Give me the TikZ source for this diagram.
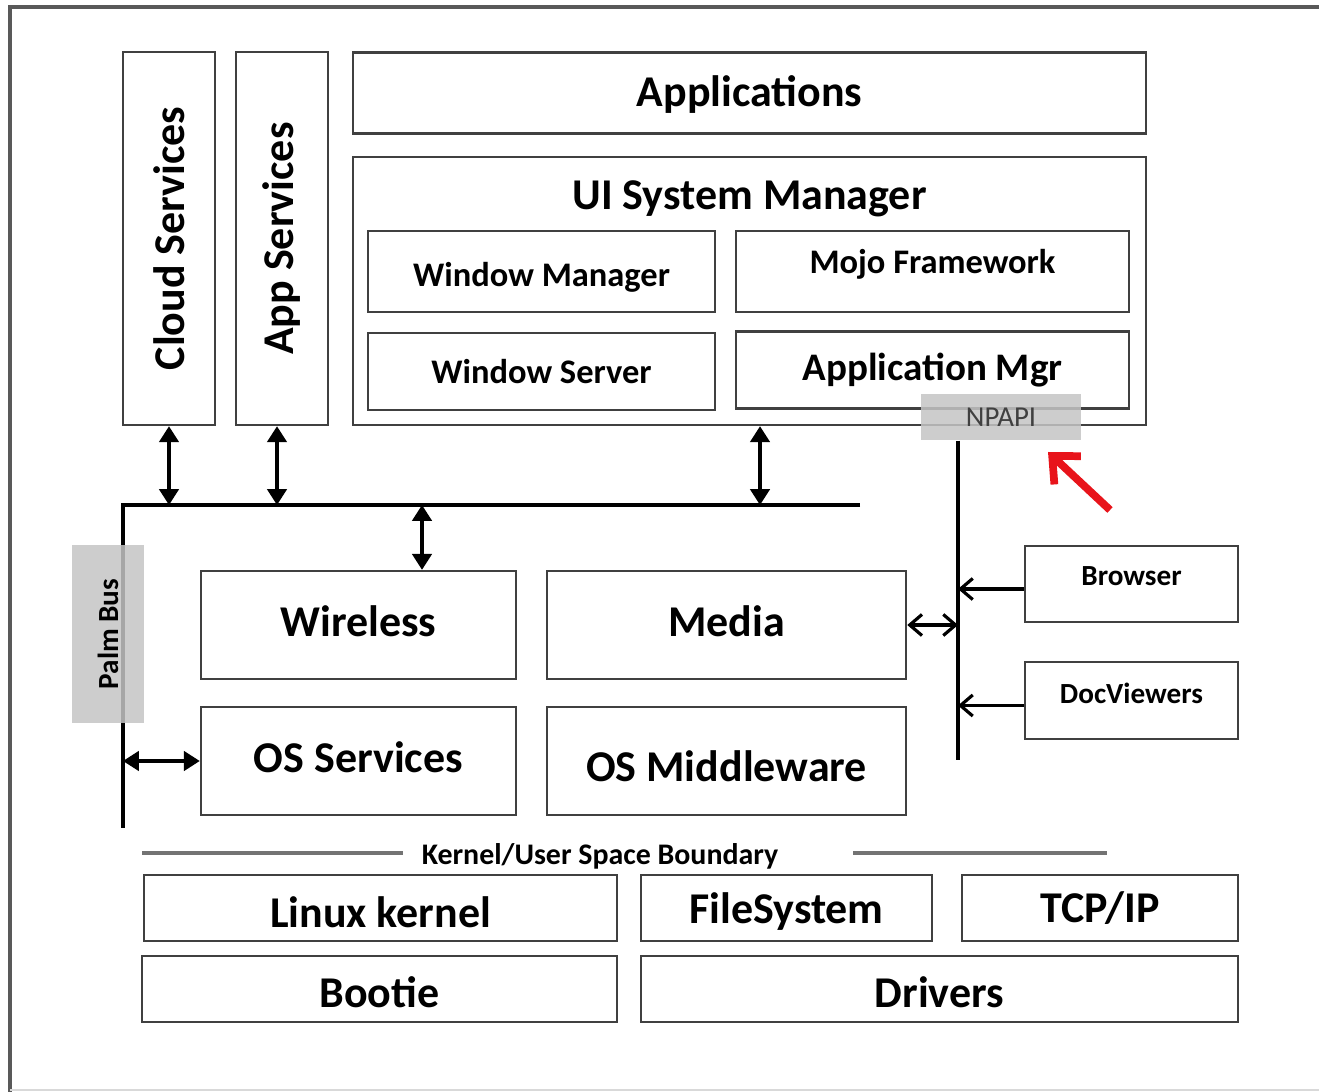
\documentclass[tikz,border=0pt]{standalone}
\usepackage{fontspec}
\setmainfont{Carlito}
\usetikzlibrary{arrows.meta}

\definecolor{edge}{HTML}{404040}
\definecolor{shade}{HTML}{C4C4C4}
\definecolor{mark}{HTML}{E8141B}

\tikzset{
  box/.style={draw=edge, line width=0.65pt, rectangle, inner sep=0pt},
  big/.style={font=\bfseries\fontsize{12.5}{15}\selectfont},
  mid/.style={font=\bfseries\fontsize{9.8}{12}\selectfont},
  small/.style={font=\bfseries\fontsize{8.3}{10}\selectfont},
  bus/.style={line width=1pt, black},
  dbl/.style={line width=0.9pt, {Triangle[width=5.5pt,length=4.5pt]}-{Triangle[width=5.5pt,length=4.5pt]}},
  feed/.style={line width=0.9pt, -{Straight Barb[width=6pt,length=3.5pt]}},
  tag/.style={fill=shade, fill opacity=0.85, text opacity=1, inner sep=0pt},
}

\begin{document}
\begin{tikzpicture}[x=0.01cm, y=-0.01cm]
			%%%%% FRAME %%%%%
			\useasboundingbox (0, 0) rectangle (1319, 1092);
			\draw[line width=0.9pt, color=black!65] (10, 1092) -- (10, 7) -- (1319, 7);
			\draw[line width=0.5pt, color=black!15] (10, 1090) -- (1319, 1090);
			
			%%%%% TOP %%%%%
			\node[box, minimum width=0.92cm, minimum height=3.73cm] (cloud) at (169, 238.5) {};
			\node[big, rotate=90] at (cloud) {Cloud Services};
			\node[box, minimum width=0.92cm, minimum height=3.73cm] (appsvc) at (282, 238.5) {};
			\node[big, rotate=90] at (appsvc) {App Services};
			
			\node[box, big, minimum width=7.93cm, minimum height=0.81cm] (apps) at (749.5, 93) {};
			\node[big] at (749.5, 95) {Applications};
			
			\node[box, minimum width=7.93cm, minimum height=2.68cm] (uism) at (749.5, 291) {};
			\node[big] at (749.5, 199) {UI System Manager};
			\node[box, minimum width=3.47cm, minimum height=0.81cm] (winmgr) at (541.5, 271.5) {};
			\node[mid] at (541.5, 277) {Window Manager};
			\node[box, minimum width=3.93cm, minimum height=0.81cm] (mojo) at (932.5, 271.5) {};
			\node[mid] at (932.5, 264) {Mojo Framework};
			\node[box, mid, minimum width=3.47cm, minimum height=0.77cm] (winsrv) at (541.5, 371.5) {Window Server};
			\node[box, font=\bfseries\fontsize{11.1}{13}\selectfont, minimum width=3.93cm, minimum height=0.77cm] (appmgr) at (932.5, 370) {Application Mgr};
			
			\node[tag, minimum width=1.6cm, minimum height=0.46cm, font=\fontsize{8.2}{10}\selectfont, text=black!75] (npapi) at (1001, 417) {NPAPI};
			\draw[line width=2.2pt, color=mark, -{Straight Barb[width=11pt,length=6pt]}] (1110, 510) -- (1048, 452);
			
			%%%%% PALM BUS %%%%%
			\coordinate (busL) at (123, 505);
			\coordinate (busR) at (860, 505);
			\coordinate (busB) at (123, 828);
			\draw[bus] (busR) -- (busL) -- (busB);
			\node[tag, minimum width=0.72cm, minimum height=1.78cm] (palm) at (108, 634) {};
			\node[small, rotate=90] at (palm) {Palm Bus};
			
			\draw[dbl] (cloud.south) -- (cloud.south |- busL);
			\coordinate (atap) at (277, 505);
			\draw[dbl] (atap |- appsvc.south) -- (atap);
			\coordinate (uitap) at (760, 505);
			\draw[dbl] (uitap |- uism.south) -- (uitap);
			
			%%%%% MIDDLE %%%%%
			\node[box, big, minimum width=3.15cm, minimum height=1.08cm] (wireless) at (358.5, 625) {};
			\node[big] at (358.5, 621) {Wireless};
			\node[box, big, minimum width=3.15cm, minimum height=1.08cm] (ossvc) at (358.5, 761) {};
			\node[big] at (358.5, 757) {OS Services};
			\node[box, big, minimum width=3.59cm, minimum height=1.08cm] (media) at (726.5, 625) {};
			\node[big] at (726.5, 621) {Media};
			\node[box, big, minimum width=3.59cm, minimum height=1.08cm] (osmid) at (726.5, 761) {};
			\node[big] at (726.5, 766) {OS Middleware};
			
			\coordinate (wtap) at (422, 505);
			\draw[dbl] (wtap) -- (wtap |- wireless.north);
			\draw[dbl] (busB |- ossvc.west) -- (ossvc.west);
			
			%%%%% NPAPI LINE %%%%%
			\coordinate (npb) at (958, 760);
			\draw[bus] (npb |- npapi.south) -- (npb);
			\node[box, minimum width=2.13cm, minimum height=0.76cm] (browser) at (1131.5, 584) {};
			\node[small] at (1131.5, 576) {Browser};
			\node[box, minimum width=2.13cm, minimum height=0.77cm] (docv) at (1131.5, 700.5) {};
			\node[small] at (1131.5, 693) {DocViewers};
			\draw[feed] ([yshift=-0.05cm]browser.west) -- ([yshift=-0.05cm]browser.west -| npb);
			\draw[feed] ([yshift=-0.05cm]docv.west) -- ([yshift=-0.05cm]docv.west -| npb);
			\draw[line width=0.9pt, {Straight Barb[width=6pt,length=3.5pt]}-{Straight Barb[width=6pt,length=3.5pt]}] (media.east) -- (media.east -| npb);
			
			%%%%% KERNEL %%%%%
			\node[font=\bfseries\fontsize{8.5}{10}\selectfont] (kub) at (600, 856) {Kernel/User Space Boundary};
			\draw[line width=1.1pt, color=black!55] (142, 853) -- (403, 853);
			\draw[line width=1.1pt, color=black!55] (853, 853) -- (1107, 853);
			
			\node[box, minimum width=4.73cm, minimum height=0.66cm] (linux) at (380.5, 908) {};
			\node[big] at (380.5, 912) {Linux kernel};
			\node[box, minimum width=2.91cm, minimum height=0.66cm] (fs) at (786.5, 908) {};
			\node[big] at (786.5, 912) {FileSystem};
			\node[box, big, minimum width=2.76cm, minimum height=0.66cm] (tcp) at (1100, 908) {TCP/IP};
			\node[box, minimum width=4.75cm, minimum height=0.66cm] (bootie) at (379.5, 989) {};
			\node[big] at (379.5, 992) {Bootie};
			\node[box, minimum width=5.97cm, minimum height=0.66cm] (drivers) at (939.5, 989) {};
			\node[big] at (939.5, 992) {Drivers};
\end{tikzpicture}
\end{document}
